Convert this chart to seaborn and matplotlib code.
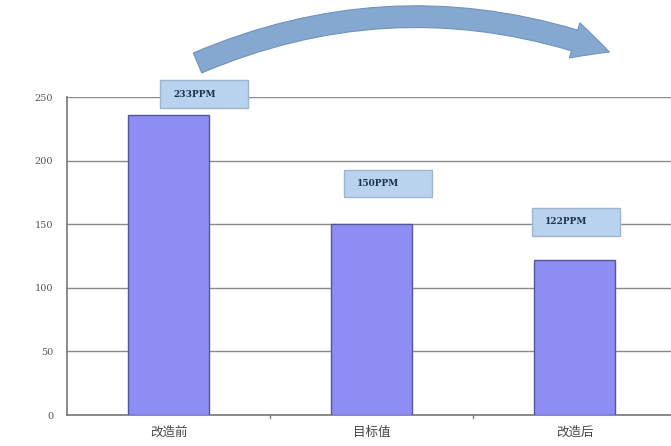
import matplotlib
matplotlib.use("Agg")
import matplotlib.pyplot as plt
import seaborn as sns
import pandas as pd
from matplotlib.patches import FancyArrowPatch, Rectangle

categories = ["改造前", "目标值", "改造后"]
values = [236, 150, 122]
value_labels = ["233PPM", "150PPM", "122PPM"]
yticks = [0, 50, 100, 150, 200, 250]

sns.set_theme(style="white")
plt.rcParams['font.family'] = ['Noto Sans CJK SC', 'DejaVu Sans']

df = pd.DataFrame({"cat": categories, "val": values})

fig = plt.figure(figsize=(6.71, 4.46), dpi=100)
ax = fig.add_axes([0.0999, 0.0695, 0.9001, 0.713])

sns.barplot(data=df, x="cat", y="val", ax=ax, color="#8d8df4", width=0.4,
            edgecolor="#55559a", linewidth=1.0, saturation=1, zorder=3)

ax.set_ylim(0, 250)
ax.set_xlim(-0.5, 2.475)
ax.set_yticks(yticks)
ax.set_yticklabels([str(v) for v in yticks], fontsize=7, color="#555555",
                   family=['DejaVu Serif'])
ax.set_xlabel("")
ax.set_ylabel("")
ax.tick_params(axis="x", labelsize=9, colors="#444444", length=0, pad=8)
ax.tick_params(axis="y", length=0, pad=10)
ax.yaxis.grid(True, color="#8a8a8a", linewidth=1.0, zorder=1)
for side in ["top", "right"]:
    ax.spines[side].set_visible(False)
ax.spines["left"].set_color("#777777")
ax.spines["bottom"].set_color("#777777")
ax.spines["left"].set_linewidth(1.2)
ax.spines["bottom"].set_linewidth(1.2)

# category separator ticks
for xs in [0.5, 1.5]:
    ax.plot([xs, xs], [0, -2], color="#777777", lw=1, clip_on=False)

# value label boxes
box_x = [0.175, 1.08, 2.007]
box_y = [252, 182, 152]
bw, bh = 0.433, 22
for x, y, lab in zip(box_x, box_y, value_labels):
    r = Rectangle((x - bw / 2, y - bh / 2), bw, bh, facecolor="#b9d3ee",
                  edgecolor="#9fb6cf", lw=1.0, zorder=5, clip_on=False)
    ax.add_patch(r)
    ax.text(x - bw / 2 + 0.065, y, lab, fontsize=6.5, color="#1f2f55",
            va="center", ha="left", zorder=6, clip_on=False,
            fontweight="bold", family=['DejaVu Serif'])

# curved arrow
arrow = FancyArrowPatch(
    posA=(195 / 671, 1 - 64 / 446), posB=(612 / 671, 1 - 53 / 446),
    transform=fig.transFigure,
    arrowstyle="simple,head_width=2.2,head_length=2.2,tail_width=1.3",
    mutation_scale=12,
    connectionstyle="arc3,rad=-0.2",
    facecolor="#86a8d0", edgecolor="#6f93c0", lw=0.8, zorder=10)
fig.patches.append(arrow)

fig.savefig("out.png", dpi=100)
